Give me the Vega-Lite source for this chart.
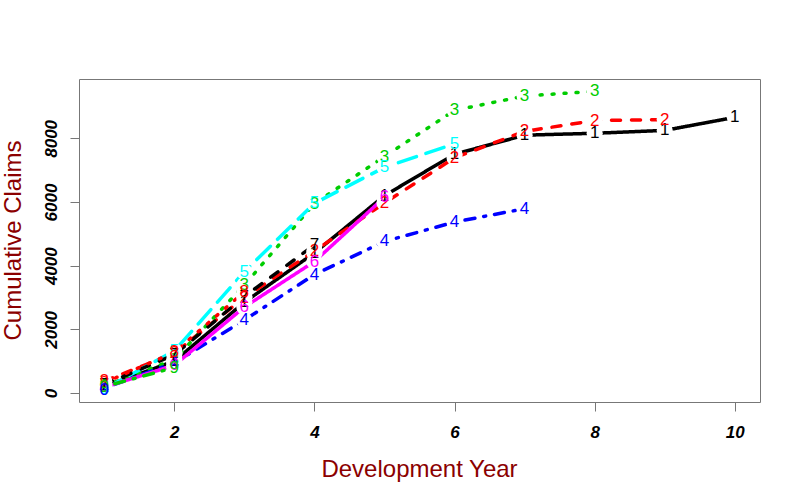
{
  "$schema": "https://vega.github.io/schema/vega-lite/v6.json",
  "width": 681,
  "height": 323,
  "autosize": {"type": "none"},
  "padding": {"left": 79, "top": 79, "right": 40, "bottom": 98},
  "background": "white",
  "config": {"view": {"stroke": "#777777", "strokeWidth": 1}, "font": "Liberation Sans"},
  "data": {"values": [
    {"series": "1", "lab": "1", "dev": 1, "claims": 200},
    {"series": "1", "lab": "1", "dev": 2, "claims": 1000},
    {"series": "1", "lab": "1", "dev": 3, "claims": 2850},
    {"series": "1", "lab": "1", "dev": 4, "claims": 4400},
    {"series": "1", "lab": "1", "dev": 5, "claims": 6200},
    {"series": "1", "lab": "1", "dev": 6, "claims": 7500},
    {"series": "1", "lab": "1", "dev": 7, "claims": 8100},
    {"series": "1", "lab": "1", "dev": 8, "claims": 8160},
    {"series": "1", "lab": "1", "dev": 9, "claims": 8250},
    {"series": "1", "lab": "1", "dev": 10, "claims": 8660},
    {"series": "2", "lab": "2", "dev": 1, "claims": 370},
    {"series": "2", "lab": "2", "dev": 2, "claims": 1250},
    {"series": "2", "lab": "2", "dev": 3, "claims": 3000},
    {"series": "2", "lab": "2", "dev": 4, "claims": 4460},
    {"series": "2", "lab": "2", "dev": 5, "claims": 5970},
    {"series": "2", "lab": "2", "dev": 6, "claims": 7390},
    {"series": "2", "lab": "2", "dev": 7, "claims": 8220},
    {"series": "2", "lab": "2", "dev": 8, "claims": 8560},
    {"series": "2", "lab": "2", "dev": 9, "claims": 8590},
    {"series": "3", "lab": "3", "dev": 1, "claims": 220},
    {"series": "3", "lab": "3", "dev": 2, "claims": 1050},
    {"series": "3", "lab": "3", "dev": 3, "claims": 3390},
    {"series": "3", "lab": "3", "dev": 4, "claims": 5950},
    {"series": "3", "lab": "3", "dev": 5, "claims": 7430},
    {"series": "3", "lab": "3", "dev": 6, "claims": 8880},
    {"series": "3", "lab": "3", "dev": 7, "claims": 9330},
    {"series": "3", "lab": "3", "dev": 8, "claims": 9480},
    {"series": "4", "lab": "4", "dev": 1, "claims": 150},
    {"series": "4", "lab": "4", "dev": 2, "claims": 950},
    {"series": "4", "lab": "4", "dev": 3, "claims": 2290},
    {"series": "4", "lab": "4", "dev": 4, "claims": 3720},
    {"series": "4", "lab": "4", "dev": 5, "claims": 4760},
    {"series": "4", "lab": "4", "dev": 6, "claims": 5370},
    {"series": "4", "lab": "4", "dev": 7, "claims": 5790},
    {"series": "5", "lab": "5", "dev": 1, "claims": 120},
    {"series": "5", "lab": "5", "dev": 2, "claims": 1320},
    {"series": "5", "lab": "5", "dev": 3, "claims": 3810},
    {"series": "5", "lab": "5", "dev": 4, "claims": 5960},
    {"series": "5", "lab": "5", "dev": 5, "claims": 7090},
    {"series": "5", "lab": "5", "dev": 6, "claims": 7830},
    {"series": "6", "lab": "6", "dev": 1, "claims": 180},
    {"series": "6", "lab": "6", "dev": 2, "claims": 870},
    {"series": "6", "lab": "6", "dev": 3, "claims": 2700},
    {"series": "6", "lab": "6", "dev": 4, "claims": 4130},
    {"series": "6", "lab": "6", "dev": 5, "claims": 6150},
    {"series": "7", "lab": "7", "dev": 1, "claims": 260},
    {"series": "7", "lab": "7", "dev": 2, "claims": 1200},
    {"series": "7", "lab": "7", "dev": 3, "claims": 3030},
    {"series": "7", "lab": "7", "dev": 4, "claims": 4650},
    {"series": "8", "lab": "8", "dev": 1, "claims": 320},
    {"series": "8", "lab": "8", "dev": 2, "claims": 1280},
    {"series": "8", "lab": "8", "dev": 3, "claims": 3180},
    {"series": "9", "lab": "9", "dev": 1, "claims": 200},
    {"series": "9", "lab": "9", "dev": 2, "claims": 800},
    {"series": "10", "lab": "0", "dev": 1, "claims": 93}
  ]},
  "encoding": {
    "x": {
      "field": "dev", "type": "quantitative",
      "scale": {"domain": [0.64, 10.36], "nice": false, "zero": false},
      "axis": {
        "values": [2, 4, 6, 8, 10], "format": "d", "grid": false, "domain": false,
        "tickSize": 9, "tickColor": "#777777", "tickWidth": 1,
        "labelFontSize": 17, "labelFontWeight": "bold", "labelFontStyle": "italic",
        "labelColor": "black", "labelBaseline": "alphabetic", "labelPadding": 26,
        "labelFont": "Liberation Sans", "labelFlush": false, "labelOverlap": false,
        "title": "Development Year", "titleFontSize": 24, "titleFontWeight": "normal",
        "titleColor": "#8B0000", "titleFont": "Liberation Sans",
        "titleX": 340, "titleY": 74, "titleBaseline": "alphabetic", "titleAlign": "center"
      }
    },
    "y": {
      "field": "claims", "type": "quantitative",
      "scale": {"domain": [-283, 9865], "nice": false, "zero": false},
      "axis": {
        "values": [0, 2000, 4000, 6000, 8000], "format": "d", "grid": false, "domain": false,
        "tickSize": 9, "tickColor": "#777777", "tickWidth": 1,
        "labelFontSize": 17, "labelFontWeight": "bold", "labelFontStyle": "italic",
        "labelColor": "black", "labelAngle": 270, "labelAlign": "center",
        "labelBaseline": "alphabetic", "labelPadding": 14,
        "labelFont": "Liberation Sans", "labelFlush": false, "labelOverlap": false,
        "title": "Cumulative Claims", "titleFontSize": 24, "titleFontWeight": "normal",
        "titleColor": "#8B0000", "titleFont": "Liberation Sans", "titleAngle": 270,
        "titleX": -59, "titleY": 161, "titleBaseline": "alphabetic", "titleAlign": "center"
      }
    },
    "color": {
      "field": "series", "type": "nominal",
      "scale": {
        "domain": ["1", "2", "3", "4", "5", "6", "7", "8", "9", "10"],
        "range": ["#000000", "#FF0000", "#00CD00", "#0000FF", "#00FFFF", "#FF00FF", "#000000", "#FF0000", "#00CD00", "#0000FF"]
      },
      "legend": null
    }
  },
  "layer": [
    {
      "mark": {"type": "line", "strokeWidth": 3.5, "strokeCap": "round"},
      "encoding": {
        "strokeDash": {
          "field": "series", "type": "nominal",
          "scale": {
            "domain": ["1", "2", "3", "4", "5", "6", "7", "8", "9", "10"],
            "range": [[1, 0], [9, 11], [2, 10], [2, 9, 10, 9], [19, 10], [1, 0], [9, 11], [2, 10], [2, 9, 10, 9], [19, 10]]
          },
          "legend": null
        },
        "order": {"field": "dev", "type": "quantitative"}
      }
    },
    {
      "mark": {"type": "point", "shape": "circle", "filled": true, "size": 260, "fill": "white", "stroke": null, "opacity": 1},
      "encoding": {"color": {"value": "white"}}
    },
    {
      "mark": {"type": "text", "fontSize": 17, "font": "Liberation Sans", "baseline": "middle", "align": "center"},
      "encoding": {"text": {"field": "lab", "type": "nominal"}}
    }
  ]
}
